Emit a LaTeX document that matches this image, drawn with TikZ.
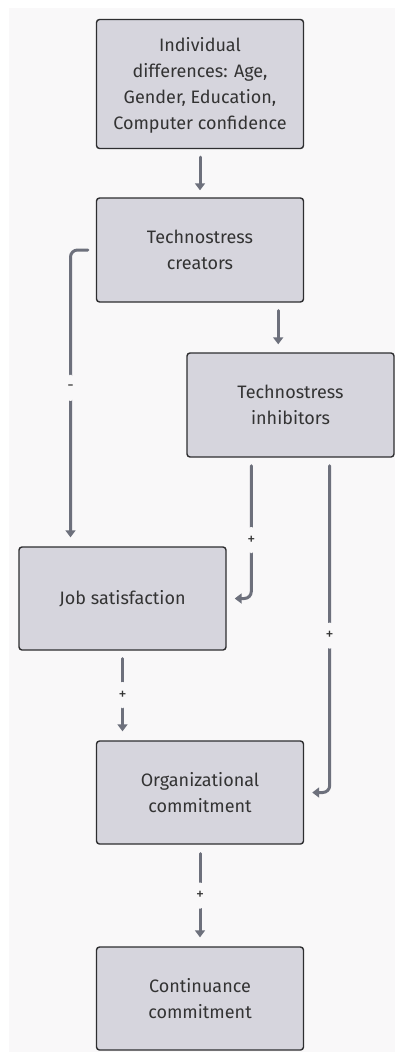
\documentclass[tikz,border=0pt]{standalone}
\usepackage{fontspec}
\setmainfont{Fira Sans}
\usetikzlibrary{arrows.meta}

\definecolor{pagebg}{HTML}{F9F8F9}
\definecolor{boxfill}{HTML}{D6D5DD}
\definecolor{boxline}{HTML}{2E2E30}
\definecolor{flowgray}{HTML}{6D707C}

\begin{document}
\begin{tikzpicture}[
	x=1pt, y=-1pt,
	factor/.style={ rectangle, draw=boxline, line width=1.4pt, fill=boxfill, rounded corners=3pt,
		minimum width=207pt, minimum height=103pt, align=center, text=black!80,
		font=\fontsize{18}{26}\selectfont },
	flow/.style={ draw=flowgray, line width=3pt, line cap=round, rounded corners=7pt,
		-{Triangle[width=10pt,length=7pt]} },
	sign/.style={ fill=pagebg, text=black!80, inner xsep=2pt, minimum height=26pt,
		font=\fontsize{16}{16}\selectfont },
]

\useasboundingbox (0,0) rectangle (395,1052);
\fill[pagebg] (9,8) rectangle (395,1052);

\node at (200,84) (indiv) [factor,minimum height=129pt,text depth=2pt] {Individual\\differences: Age,\\Gender, Education,\\Computer confidence};
\node at (200,250) (creators) [factor,minimum height=104pt] {Technostress\\creators};
\node at (290.5,405) (inhib) [factor,minimum height=104pt] {Technostress\\inhibitors};
\node at (122.5,598.5) (job) [factor] {Job satisfaction};
\node at (200,792.5) (org) [factor] {Organizational\\commitment};
\node at (200,998.5) (cont) [factor] {Continuance\\commitment};

\draw[flow, shorten <=8pt, shorten >=7pt] (indiv) -- (creators);
\draw[flow] ([xshift=-26pt,yshift=-8pt]creators.south east) -- ([xshift=-26pt,yshift=8pt]creators.south east |- inhib.north);

% effects on job satisfaction
\draw[flow] ([xshift=-8pt]creators.west) -| ([xshift=-52pt,yshift=9pt]job.north) node[sign,pos=0.74] {-};
\draw[flow] ([xshift=65pt,yshift=-8pt]inhib.south west) |- ([xshift=8pt]job.east) node[sign,pos=0.28] {+};

% effects on commitment
\draw[flow] ([xshift=-65pt,yshift=-8pt]inhib.south east) |- ([xshift=8pt]org.east) node[sign,pos=0.26] {+};
\draw[flow] ([yshift=-8pt]job.south) -- ([yshift=9pt]job.south |- org.north) node[sign,midway] {+};
\draw[flow] ([yshift=-9pt]org.south) -- ([yshift=9pt]cont.north) node[sign,midway] {+};

\end{tikzpicture}
\end{document}
